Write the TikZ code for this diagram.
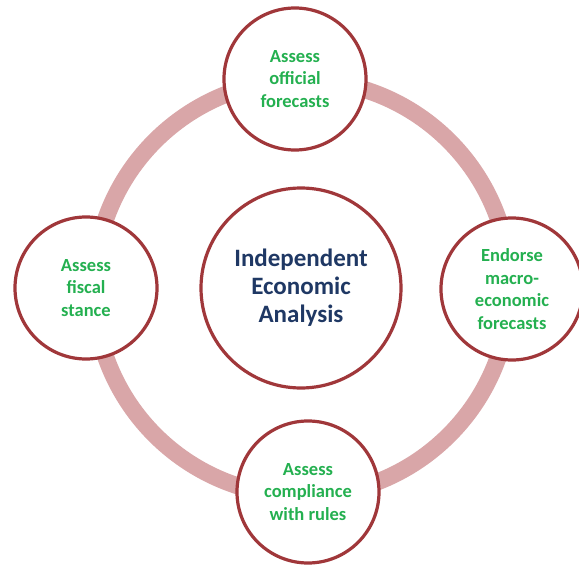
\documentclass[tikz,border=0pt]{standalone}
\usepackage{fontspec}
\setmainfont{Carlito}
\usepackage{tikz}

\definecolor{ringpink}{RGB}{217,166,168}
\definecolor{rimred}{RGB}{160,55,58}
\definecolor{taskgreen}{RGB}{36,176,80}
\definecolor{corenavy}{RGB}{31,56,100}

\tikzset{
  task/.style={circle, draw=rimred, line width=3.2pt, fill=white, inner sep=0pt,
    minimum size=142pt, align=center, text=taskgreen,
    font=\fontsize{18.5}{22.5}\selectfont\bfseries},
  core/.style={task, minimum size=200pt, text=corenavy,
    font=\fontsize{25}{28}\selectfont\bfseries}
}

\begin{document}
\begin{tikzpicture}[x=1pt,y=-1pt]
\useasboundingbox (0,0) rectangle (579,565);
\fill[white] (0,0) rectangle (579,565);

% the ring behind the tasks
\draw[ringpink, line width=17pt] (302,288) circle[radius=208pt];

\node[core] (analysis) at (301,288) {Independent\\Economic\\Analysis};

\node[task] (official) at (295,79) {Assess\\official\\forecasts};
\node[task] (endorse) at (512,289) {Endorse\\macro-\\economic\\forecasts};
\node[task] (compliance) at (308,492) {Assess\\compliance\\with rules};
\node[task] (fiscal) at (86,288) {Assess\\fiscal\\stance};
\end{tikzpicture}
\end{document}
